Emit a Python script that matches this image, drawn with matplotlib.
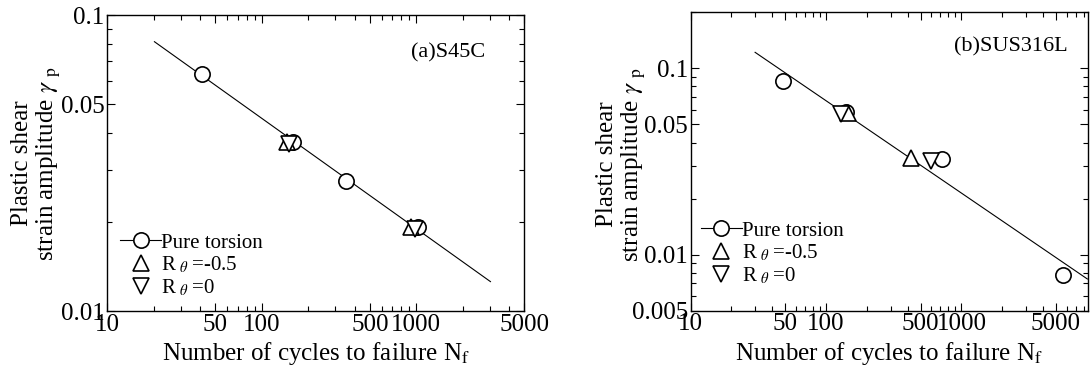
import matplotlib
matplotlib.use("Agg")
import matplotlib.pyplot as plt
from matplotlib.ticker import NullFormatter

plt.rcParams["font.family"] = ["Liberation Serif", "DejaVu Serif"]
plt.rcParams["mathtext.fontset"] = "stix"

# (a) S45C
a_torsion_n = [40.8, 160, 351, 1020]
a_torsion_g = [0.0633, 0.0373, 0.0276, 0.0192]
a_rm05_n = [145, 920]
a_rm05_g = [0.0373, 0.0192]
a_r0_n = [149, 979]
a_r0_g = [0.0366, 0.0190]
a_fit_n = [20.2, 3020]
a_fit_g = [0.0813, 0.0126]

# (b) SUS316L
b_torsion_n = [47.7, 140, 718, 5640]
b_torsion_g = [0.0859, 0.0585, 0.0325, 0.00781]
b_rm05_n = [145, 422]
b_rm05_g = [0.0575, 0.0329]
b_r0_n = [128, 594]
b_r0_g = [0.0570, 0.0317]
b_fit_n = [29.9, 8530]
b_fit_g = [0.122, 0.0074]

x_major = [10, 50, 100, 500, 1000, 5000]
x_major_labels = ["10", "50", "100", "500", "1000", "5000"]
x_minor = [20, 30, 40, 60, 70, 80, 90, 200, 300, 400, 600, 700, 800, 900,
           2000, 3000, 4000, 6000, 7000, 8000, 9000]

fig = plt.figure(figsize=(10.9, 3.72), dpi=100)
ax1 = fig.add_axes([0.0984, 0.163, 0.3826, 0.7965])
ax2 = fig.add_axes([0.6337, 0.1648, 0.3645, 0.802])

ms = 11
mew = 1.2


def draw(ax, fit_n, fit_g, tn, tg, rn, rg, zn, zg):
    ax.plot(fit_n, fit_g, color="black", lw=0.8, zorder=1)
    ax.plot(rn, rg, ls="none", marker="^", ms=ms, mfc="white", mec="black", mew=mew, zorder=3)
    ax.plot(zn, zg, ls="none", marker="v", ms=ms, mfc="white", mec="black", mew=mew, zorder=3)
    ax.plot(tn, tg, ls="none", marker="o", ms=ms, mfc="white", mec="black", mew=mew, zorder=2)
    # legend handles
    h1, = ax.plot([], [], color="black", lw=0.8, marker="o", ms=ms, mfc="white", mec="black", mew=mew)
    h2, = ax.plot([], [], ls="none", marker="^", ms=ms, mfc="white", mec="black", mew=mew)
    h3, = ax.plot([], [], ls="none", marker="v", ms=ms, mfc="white", mec="black", mew=mew)
    return [h1, h2, h3]


labels = ["Pure torsion", r"R$\;_{\theta}\;$=-0.5", r"R$\;_{\theta}\;$=0"]

hs1 = draw(ax1, a_fit_n, a_fit_g, a_torsion_n, a_torsion_g, a_rm05_n, a_rm05_g, a_r0_n, a_r0_g)
hs2 = draw(ax2, b_fit_n, b_fit_g, b_torsion_n, b_torsion_g, b_rm05_n, b_rm05_g, b_r0_n, b_r0_g)

for ax in (ax1, ax2):
    ax.set_xscale("log")
    ax.set_yscale("log")
    ax.set_xticks(x_major, x_major_labels)
    ax.set_xticks(x_minor, minor=True)
    ax.xaxis.set_minor_formatter(NullFormatter())
    ax.yaxis.set_minor_formatter(NullFormatter())
    ax.tick_params(which="both", direction="in", top=True, right=True, labelsize=18, width=0.8)
    ax.tick_params(which="major", length=6, pad=2)
    ax.tick_params(which="minor", length=3.5)
    for s in ax.spines.values():
        s.set_linewidth(1.0)
    ax.set_xlabel(r"Number of cycles to failure N$_{\rm f}$", fontsize=18, labelpad=3)
    ax.set_ylabel("Plastic shear\n" + r"strain amplitude $\gamma$ $_{\rm p}$", fontsize=18,
                  linespacing=1.1)

ax1.set_xlim(10, 5000)
ax1.set_ylim(0.01, 0.1)
ax1.set_yticks([0.01, 0.05, 0.1], ["0.01", "0.05", "0.1"])
ax1.set_yticks([0.02, 0.03, 0.04, 0.06, 0.07, 0.08, 0.09], minor=True)
ax1.yaxis.set_label_coords(-0.107, 0.5)
ax1.text(0.818, 0.871, "(a)S45C", transform=ax1.transAxes, fontsize=16, ha="center", va="center")
ax1.legend(hs1, labels, loc="lower left", bbox_to_anchor=(0.03, 0.044), frameon=False,
           fontsize=15, handlelength=2.0, handletextpad=0.0, labelspacing=0.1,
           borderpad=0, borderaxespad=0)

ax2.set_xlim(10, 8630)
ax2.set_ylim(0.005, 0.2)
ax2.set_yticks([0.005, 0.01, 0.05, 0.1], ["0.005", "0.01", "0.05", "0.1"])
ax2.set_yticks([0.006, 0.007, 0.008, 0.009, 0.02, 0.03, 0.04, 0.06, 0.07, 0.08, 0.09, 0.2],
               minor=True)
ax2.yaxis.set_label_coords(-0.108, 0.49)
ax2.text(0.806, 0.885, "(b)SUS316L", transform=ax2.transAxes, fontsize=16, ha="center", va="center")
ax2.legend(hs2, labels, loc="lower left", bbox_to_anchor=(0.025, 0.082), frameon=False,
           fontsize=15, handlelength=2.0, handletextpad=0.0, labelspacing=0.1,
           borderpad=0, borderaxespad=0)

fig.savefig("out.png", dpi=100)
